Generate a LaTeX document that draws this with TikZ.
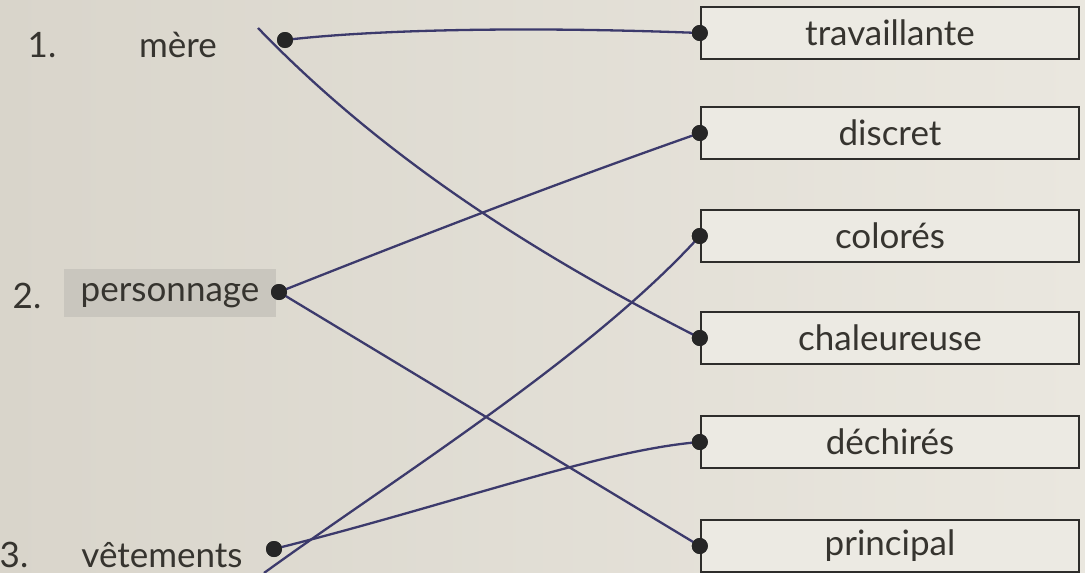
\documentclass[tikz,border=0pt]{standalone}
\usepackage{fontspec}
\setmainfont{Lato}
\definecolor{bgL}{HTML}{D9D5CB}
\definecolor{bgR}{HTML}{EAE7DF}
\definecolor{boxfill}{HTML}{ECEAE3}
\definecolor{boxc}{HTML}{2E2D2B}
\definecolor{txt}{HTML}{36342F}
\definecolor{ink}{HTML}{3C3A6C}
\definecolor{hilite}{HTML}{C9C6BE}
\begin{document}
\begin{tikzpicture}[x=1pt,y=-1pt,
  answer/.style={draw=boxc, line width=2.4pt, fill=boxfill, minimum width=378pt, minimum height=52pt, inner sep=0pt, font=\fontsize{35}{40}\selectfont, text=txt},
  word/.style={font=\fontsize{35}{40}\selectfont, text=txt, inner sep=0pt},
  dotc/.style={circle, fill=black!85, inner sep=0pt, minimum size=16pt},
  link/.style={draw=ink, line width=2.3pt}]
\useasboundingbox (0,0) rectangle (1085,573);
\shade[left color=bgL, right color=bgR] (0,0) rectangle (1085,573);

% left column
\node[word] (n1) at (42,45) {1.};
\node[word] (w1) at (178,45) {mère};
\node[fill=hilite, minimum width=212pt, minimum height=48pt, inner sep=0pt] (hl) at (170,293) {};
\node[word] (n2) at (27,296) {2.};
\node[word] (w2) at (170,296) {personnage};
\node[word] (n3) at (14,555) {3.};
\node[word] (w3) at (162,555) {vêtements};

% right column
\node[answer] (b1) at (890,33) {travaillante};
\node[answer] (b2) at (890,133) {discret};
\node[answer] (b3) at (890,236) {colorés};
\node[answer] (b4) at (890,338) {chaleureuse};
\node[answer] (b5) at (890,442) {déchirés};
\node[answer] (b6) at (890,546) {principal};

% dots
\node[dotc] (d1) at (285,40) {};
\node[dotc] (d2) at (279,292) {};
\node[dotc] (d3) at (274,549) {};
\node[dotc] (r1) at (b1.west) {};
\node[dotc] (r2) at (b2.west) {};
\node[dotc] (r3) at (b3.west) {};
\node[dotc] (r4) at (b4.west) {};
\node[dotc] (r5) at (b5.west) {};
\node[dotc] (r6) at (b6.west) {};

\coordinate (s1) at (258,28);
\coordinate (s3) at (264,573);

% connectors
\draw[link] (d1.center) .. controls (370,30) and (520,26) .. (r1.center);
\draw[link] (s1) .. controls (390,165) and (550,262) .. (r4.center);
\draw[link] (d2.center) .. controls (420,236) and (560,182) .. (r2.center);
\draw[link] (d2.center) -- (r6.center);
\draw[link] (s3) .. controls (395,478) and (590,357) .. (r3.center);
\draw[link] (d3.center) .. controls (450,505) and (600,450) .. (r5.center);

% dots on top of the connectors
\foreach \d in {d1,d2,d3,r1,r2,r3,r4,r5,r6}{\fill[black!85] (\d) circle (8pt);}
\end{tikzpicture}
\end{document}
